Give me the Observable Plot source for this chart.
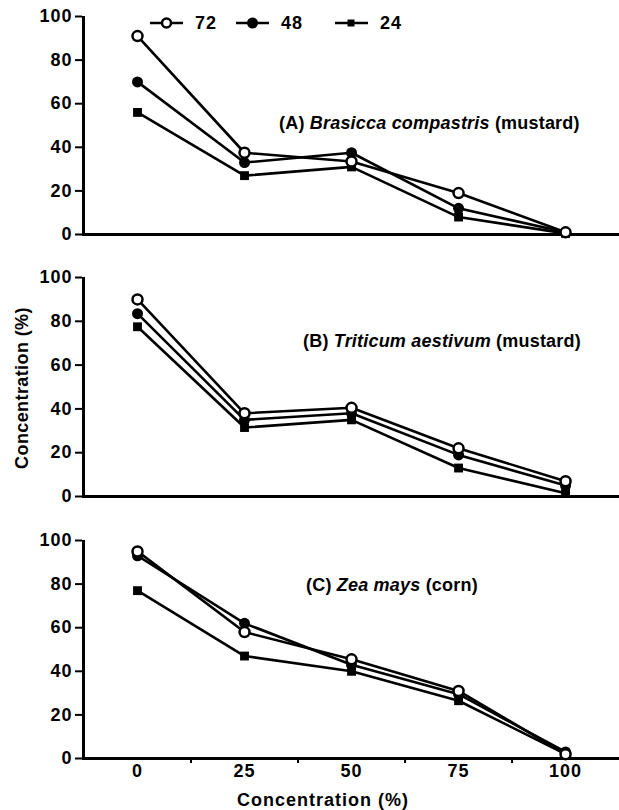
<!DOCTYPE html>
<html><head><meta charset="utf-8">
<script src="https://cdn.jsdelivr.net/npm/d3@7"></script>
<script src="https://cdn.jsdelivr.net/npm/@observablehq/plot@0.6"></script>
<style>
body{margin:0;background:#fff;}
#root{position:relative;width:619px;height:810px;font-family:"Liberation Sans",Arial,sans-serif;color:#000;overflow:hidden;}
.panel{position:absolute;left:0;}
.lab{position:absolute;font-size:18px;letter-spacing:0.2px;white-space:nowrap;font-weight:bold;line-height:18px;}
.leg{position:absolute;display:flex;align-items:center;font-size:18px;font-weight:bold;letter-spacing:1px;line-height:18px;}
.leg svg{margin-right:12px;}
</style></head><body><div id="root"></div>
<script>
// ---- data ----
const concentrations = [0, 25, 50, 75, 100];
const seriesNames = ["72", "48", "24"];
const panelA_72 = [91, 37.5, 33.5, 19, 1];
const panelA_48 = [70, 33, 37.5, 12, 1];
const panelA_24 = [56, 27, 31, 8, 0.5];
const panelB_72 = [90, 38, 40.5, 22, 7];
const panelB_48 = [83.5, 35, 38, 19, 5];
const panelB_24 = [77.5, 31.5, 35, 13, 1.5];
const panelC_72 = [95, 58, 45.5, 31, 2];
const panelC_48 = [93, 62, 43, 29.5, 3];
const panelC_24 = [77, 47, 40, 26.5, 2];
const yTicks = [0, 20, 40, 60, 80, 100];
const xTickLabels = [0, 25, 50, 75, 100];
const xMinorTicks = [12.5, 37.5, 62.5, 87.5];
const panelTitles = [
  ["(A) ", "Brasicca compastris", " (mustard)"],
  ["(B) ", "Triticum aestivum", " (mustard)"],
  ["(C) ", "Zea mays", " (corn)"]
];
const axisTitle = "Concentration (%)";

const xDomain = [-12.85, 112.6];
const root = document.getElementById("root");

function rows(s72, s48, s24) {
  const out = [];
  [s24, s48, s72].forEach((arr, k) => {
    const name = ["24", "48", "72"][k];
    arr.forEach((v, i) => out.push({c: concentrations[i], v, s: name}));
  });
  return out;
}

function panel(top, height, mt, mb, data, showX) {
  const marks = [
    Plot.ruleY([0], {stroke: "black", strokeWidth: 3}),
    Plot.ruleX([xDomain[0]], {y1: 0, y2: 100, stroke: "black", strokeWidth: 3, dx: 1}),
    Plot.axisY({ticks: yTicks, tickSize: 7, tickPadding: 3, strokeWidth: 2, label: null,
      fontSize: 18, fontWeight: "bold"}),
    Plot.line(data, {x: "c", y: "v", z: "s", stroke: "black", strokeWidth: 2.6}),
    Plot.dot(data.filter(d => d.s === "24"), {x: "c", y: "v", symbol: "square", r: 5, fill: "black", stroke: "none"}),
    Plot.dot(data.filter(d => d.s === "48"), {x: "c", y: "v", r: 5.5, fill: "black", stroke: "none"}),
    Plot.dot(data.filter(d => d.s === "72"), {x: "c", y: "v", r: 5, fill: "white", stroke: "black", strokeWidth: 2.5})
  ];
  if (showX) {
    marks.push(Plot.axisX({ticks: xTickLabels, tickSize: 0, tickPadding: 6, label: null, fontSize: 18, fontWeight: "bold"}));
    marks.push(Plot.axisX({ticks: xMinorTicks, tickSize: 5, strokeWidth: 2, tickFormat: () => "", label: null}));
  }
  const svg = Plot.plot({
    width: 619, height,
    marginLeft: 82, marginRight: 0, marginTop: mt, marginBottom: mb,
    x: {domain: xDomain, axis: showX ? undefined : null},
    y: {domain: [0, 100], axis: null},
    style: {fontFamily: "Liberation Sans, Arial, sans-serif", fontSize: "18px", letterSpacing: "1px", color: "black", background: "white", overflow: "visible"},
    marks
  });
  svg.classList.add("panel");
  svg.style.top = top + "px";
  root.appendChild(svg);
}

panel(0, 250, 16, 16, rows(panelA_72, panelA_48, panelA_24), false);
panel(260, 250, 17, 14, rows(panelB_72, panelB_48, panelB_24), false);
panel(520, 290, 20, 52, rows(panelC_72, panelC_48, panelC_24), true);

// panel titles
const titlePos = [[279, 114], [303, 332], [306, 576]];
panelTitles.forEach((t, i) => {
  const d = document.createElement("div");
  d.className = "lab";
  d.style.left = titlePos[i][0] + "px";
  d.style.top = titlePos[i][1] + "px";
  d.innerHTML = t[0] + "<i>" + t[1] + "</i>" + t[2];
  root.appendChild(d);
});

// axis titles
const yl = document.createElement("div");
yl.className = "lab";
yl.textContent = axisTitle;
yl.style.left = "22px"; yl.style.top = "388px";
yl.style.letterSpacing = "0.4px";
yl.style.transform = "translate(-50%,-50%) rotate(-90deg)";
root.appendChild(yl);
const xl = document.createElement("div");
xl.className = "lab";
xl.textContent = axisTitle;
xl.style.left = "323px"; xl.style.top = "800px";
xl.style.letterSpacing = "1px";
xl.style.transform = "translate(-50%,-50%)";
root.appendChild(xl);

// legend
const legLeft = [150, 236, 335];
seriesNames.forEach((name, i) => {
  const d = document.createElement("div");
  d.className = "leg";
  d.style.left = legLeft[i] + "px";
  d.style.top = "14px";
  let sym;
  if (name === "72") sym = '<circle cx="16.5" cy="8" r="4.5" fill="white" stroke="black" stroke-width="2.5"/>';
  else if (name === "48") sym = '<circle cx="16.5" cy="8" r="5.5" fill="black"/>';
  else sym = '<rect x="12.5" y="4.5" width="7" height="7" fill="black"/>';
  d.innerHTML = '<svg width="33" height="16"><line x1="0" x2="33" y1="8" y2="8" stroke="black" stroke-width="2.5"/>' + sym + '</svg><span>' + name + '</span>';
  root.appendChild(d);
});
</script>
</body></html>
